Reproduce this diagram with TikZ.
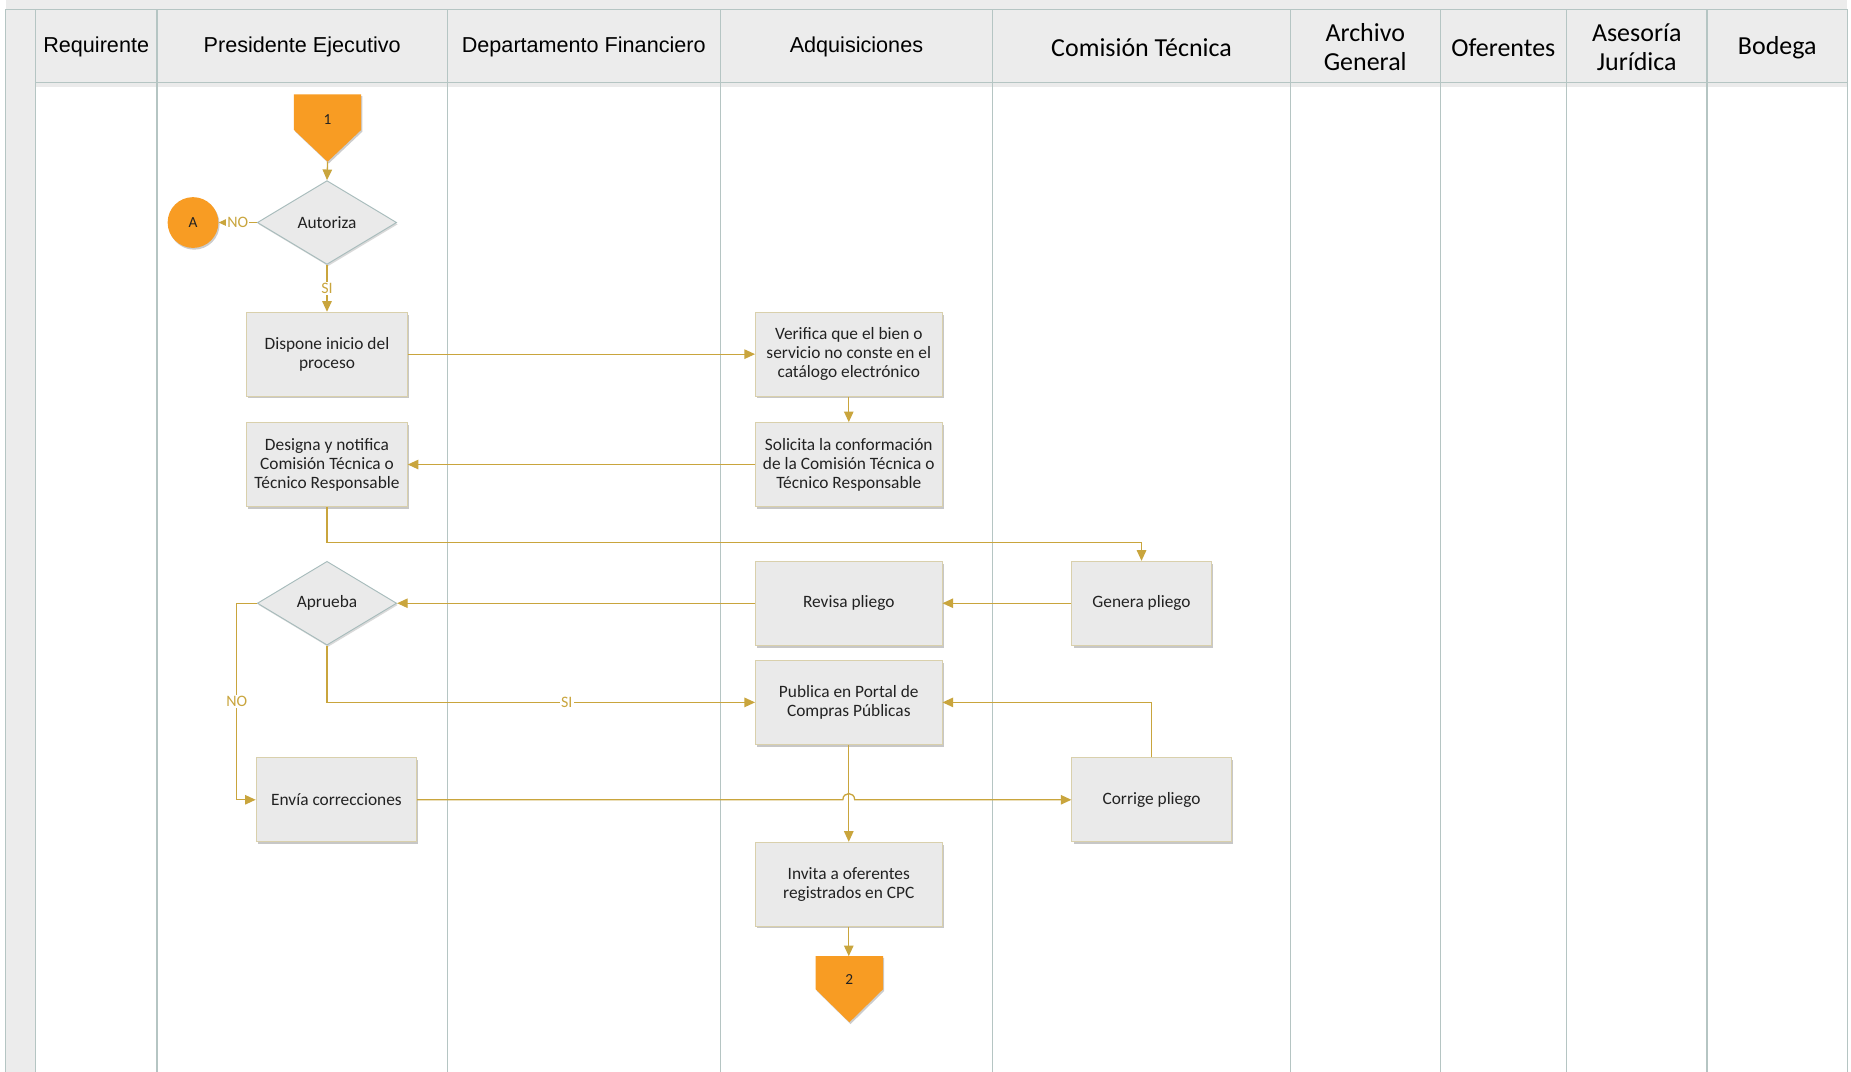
\documentclass[tikz,border=0pt]{standalone}
\usepackage{fontspec}
\setmainfont{Carlito}
\newfontfamily\arialf{Liberation Sans}
\usetikzlibrary{shapes.geometric,shadows,arrows.meta,calc}
\definecolor{laneline}{HTML}{B5C5C3}
\definecolor{hdrfill}{HTML}{ECECEC}
\definecolor{boxfill}{HTML}{EAEAEA}
\definecolor{boxline}{HTML}{D9D0AC}
\definecolor{dialine}{HTML}{A8BCBC}
\definecolor{conn}{HTML}{C9A53D}
\definecolor{orng}{HTML}{F89C23}
\definecolor{txt}{HTML}{222222}
\begin{document}
\begin{tikzpicture}[x=1pt,y=-1pt,
  procbox/.style={draw=boxline, fill=boxfill, line width=0.8pt, minimum height=71pt,
    align=center, inner sep=2pt, text=txt, font=\fontsize{14.7}{16}\selectfont,
    drop shadow={shadow xshift=1.5pt,shadow yshift=-2pt,fill=black,opacity=0.22}},
  decision/.style={diamond, draw=dialine, fill=boxfill, line width=0.8pt, aspect=1.66,
    minimum width=118pt, minimum height=71pt, inner sep=0pt, text=txt,
    font=\fontsize{14.7}{16}\selectfont,
    drop shadow={shadow xshift=1pt,shadow yshift=-1.5pt,fill=black,opacity=0.15}},
  flow/.style={draw=conn, line width=1.1pt, -{Triangle[length=9pt,width=8pt]}},
  lbl/.style={fill=white, inner sep=1pt, text=conn, font=\fontsize{13.5}{15}\selectfont},
  hdr/.style={text=black, align=center, font=\fontsize{22}{24}\selectfont},
  hdra/.style={text=black, align=center, font=\arialf\fontsize{18.3}{20}\selectfont},
  lane/.style={draw=laneline, line width=1pt},
  offpage/.style={fill=orng, drop shadow={shadow xshift=1pt,shadow yshift=-1.5pt,fill=black,opacity=0.2}},
  conlbl/.style={text=txt, font=\fontsize{13}{15}\selectfont}
]
\useasboundingbox (0,0) rectangle (1568,908);
% background
\fill[white] (0,0) rectangle (1568,908);
\fill[hdrfill] (5,0) rectangle (1565,70);
\fill[hdrfill] (5,0) rectangle (30,908);
% header shadow
\fill[black,opacity=0.08] (30,70) rectangle (1565,74);
% lane lines
\draw[lane] (5,8) -- (1565,8);
\draw[lane] (30,70) -- (1565,70);
\foreach \xx in {5,30,133,379,610,841,1093,1220,1327,1446,1565}
  \draw[lane] (\xx,8) -- (\xx,908);
% headers
\node[hdra] (h1) at (81.5,39.5) {Requirente};
\node[hdra] (h2) at (256,39.5) {Presidente Ejecutivo};
\node[hdra] (h3) at (494.5,39.5) {Departamento Financiero};
\node[hdra] (h4) at (725.5,39.5) {Adquisiciones};
\node[hdr] (h5) at (967,40) {Comisión Técnica};
\node[hdr] (h6) at (1156.5,40) {Archivo\\General};
\node[hdr] (h7) at (1273.5,40) {Oferentes};
\node[hdr] (h8) at (1386.5,40) {Asesoría\\Jurídica};
\node[hdr] (h9) at (1505.5,40) {Bodega};

% off-page 1
\path[offpage] (249,80) -- (306,80) -- (306,110) -- (277.5,137) -- (249,110) -- cycle;
\node[conlbl] (p1) at (277.5,101) {1};
\coordinate (p1tip) at (277.5,137);

% decision Autoriza
\node[decision] (aut) at (277,188.5) {Autoriza};
\node[circle, fill=orng, minimum size=43pt, inner sep=0pt, conlbl,
  drop shadow={shadow xshift=1pt,shadow yshift=-1.5pt,fill=black,opacity=0.2}] (A) at (163.5,188.5) {A};

% boxes
\node[procbox, minimum width=136pt] (disp) at (277,300) {Dispone inicio del\\proceso};
\node[procbox, minimum width=158pt] (ver) at (719,300) {Verifica que el bien o\\servicio no conste en el\\catálogo electrónico};
\node[procbox, minimum width=158pt] (sol) at (719,393.5) {Solicita la conformación\\de la Comisión Técnica o\\Técnico Responsable};
\node[procbox, minimum width=136pt] (des) at (277,393.5) {Designa y notifica\\Comisión Técnica o\\Técnico Responsable};
\node[procbox, minimum width=118pt] (gen) at (967,511) {Genera pliego};
\node[procbox, minimum width=158pt] (rev) at (719,511) {Revisa pliego};
\node[decision] (apr) at (277,511) {Aprueba};
\node[procbox, minimum width=158pt] (pub) at (719,595) {Publica en Portal de\\Compras Públicas};
\node[procbox, minimum width=136pt] (env) at (285,677.5) {Envía correcciones};
\node[procbox, minimum width=135pt] (cor) at (975.5,677.5) {Corrige pliego};
\node[procbox, minimum width=158pt] (inv) at (719,749) {Invita a oferentes\\registrados en CPC};

% off-page 2
\path[offpage] (691,810) -- (748,810) -- (748,838) -- (719.5,866) -- (691,838) -- cycle;
\node[conlbl] (p2) at (719.5,830) {2};
\coordinate (p2top) at (719,810);

% connectors
\draw[flow] (p1tip) -- (aut.north);
\draw[flow] (aut.west) -- node[lbl]{NO} (A.east);
\draw[flow] (aut.south) -- node[lbl]{SI} (disp.north);
\draw[flow] (disp.east) -- (ver.west);
\draw[flow] (ver.south) -- (sol.north);
\draw[flow] (sol.west) -- (des.west -| des.east);
\draw[flow] (des.south) -- ++(0,30) -| (gen.north);
\draw[flow] (gen.west) -- (rev.east);
\draw[flow] (rev.west) -- (apr.east);
\draw[flow] (apr.south) |- node[lbl, pos=0.78]{SI} (pub.west);
\draw[flow] (apr.west) -- ++(-17,0) |- node[lbl, pos=0.25]{NO} (env.west);
\draw[flow] (pub.south) -- (inv.north);
\draw[flow] (env.east) -- ($(env.east -| pub.south)+(-5,0)$)
   .. controls ($(env.east -| pub.south)+(-5,-7)$) and ($(env.east -| pub.south)+(5,-7)$) ..
   ($(env.east -| pub.south)+(5,0)$) -- (cor.west);
\draw[flow] (cor.north) |- (pub.east);
\draw[flow] (inv.south) -- (p2top);
\end{tikzpicture}
\end{document}
